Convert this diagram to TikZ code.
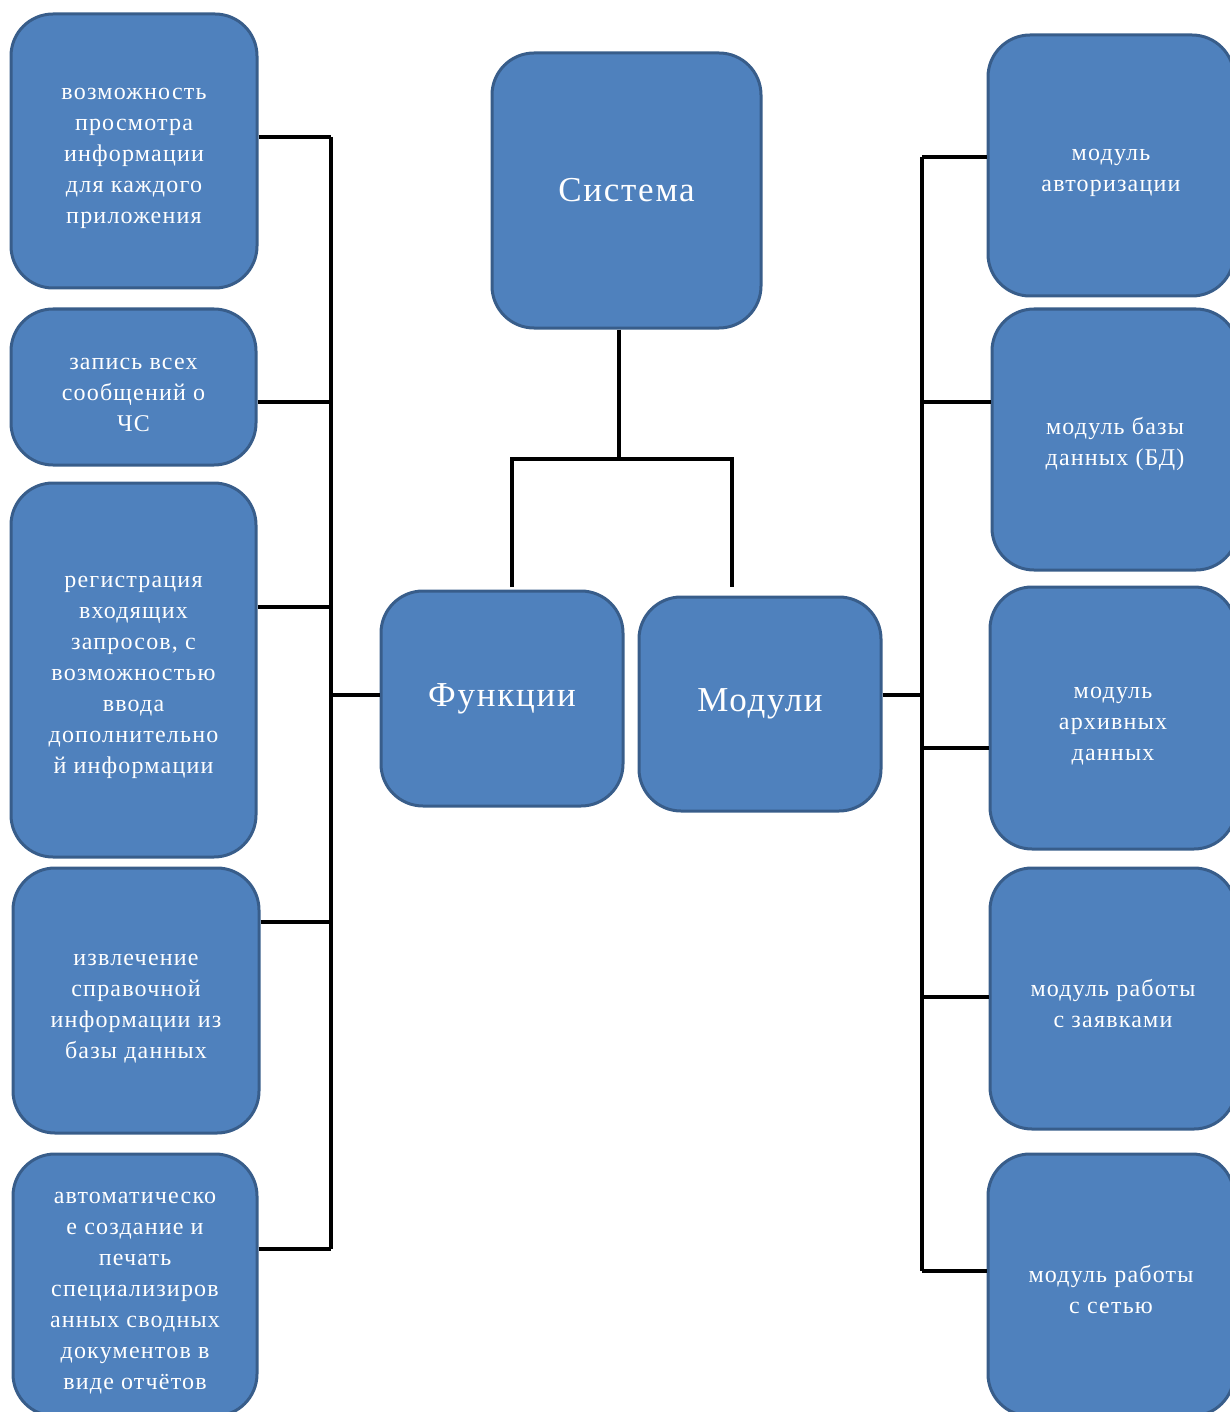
\documentclass[tikz,border=0pt]{standalone}
\usepackage{fontspec}
\setmainfont{Liberation Serif}
\newfontfamily\boxfont[LetterSpace=5]{Liberation Serif}
\newcommand\topst{\rule{0pt}{27pt}}
\definecolor{boxfill}{HTML}{4F81BD}
\definecolor{boxline}{HTML}{385D8A}
\begin{document}
\begin{tikzpicture}[x=1pt,y=-1pt,
  blk/.style={draw=boxline,fill=boxfill,line width=3pt,rounded corners=42pt,
    inner sep=0pt,text=white,align=center,font=\boxfont\fontsize{24}{31}\selectfont},
  big/.style={blk,font=\boxfont\fontsize{35}{40}\selectfont},
  conn/.style={line width=4.2pt,black}]
\useasboundingbox (0,0) rectangle (1229,1412);
% left
\node[blk,minimum width=246pt,minimum height=274pt] (L1) at (134,151) {\topst возможность\\просмотра\\информации\\для каждого\\приложения};
\node[blk,minimum width=245pt,minimum height=156pt] (L2) at (133.5,387) {\topst запись всех\\сообщений о\\ЧС};
\node[blk,minimum width=245pt,minimum height=374pt] (L3) at (133.5,670) {\topst регистрация\\входящих\\запросов, с\\возможностью\\ввода\\дополнительно\\й информации};
\node[blk,minimum width=246pt,minimum height=265pt] (L4) at (136,1000.5) {\topst извлечение\\справочной\\информации из\\базы данных};
\node[blk,minimum width=244pt,minimum height=262pt] (L5) at (135,1285) {\topst автоматическо\\е создание и\\печать\\специализиров\\анных сводных\\документов в\\виде отчётов};
% center
\node[big,minimum width=269pt,minimum height=275pt] (S) at (626.5,190.5) {Система};
\node[big,minimum width=242pt,minimum height=215pt] (F) at (502,698.5) {Функции};
\node[big,minimum width=242pt,minimum height=214pt] (M) at (760,704) {Модули};
% right
\node[blk,minimum width=246pt,minimum height=261pt] (R1) at (1111,165.5) {\topst модуль\\авторизации};
\node[blk,minimum width=246pt,minimum height=261pt] (R2) at (1115,439.5) {\topst модуль базы\\данных (БД)};
\node[blk,minimum width=246pt,minimum height=262pt] (R3) at (1113,718) {\topst модуль\\архивных\\данных};
\node[blk,minimum width=246pt,minimum height=261pt] (R4) at (1113,998.5) {\topst модуль работы\\с заявками};
\node[blk,minimum width=246pt,minimum height=262pt] (R5) at (1111,1285) {\topst модуль работы\\с сетью};
% coordinates
\coordinate (lb1) at (331,137);
\coordinate (lb2) at (331,402);
\coordinate (lb3) at (331,607);
\coordinate (lb4) at (331,922);
\coordinate (lb5) at (331,1249);
\coordinate (lf) at (331,695);
\coordinate (rb1) at (922,157);
\coordinate (rb2) at (922,402);
\coordinate (rb3) at (922,748);
\coordinate (rb4) at (922,997);
\coordinate (rb5) at (922,1271);
\coordinate (rm) at (922,695);
\coordinate (j) at (619,459);
\coordinate (jl) at (512,459);
\coordinate (jr) at (732,459);
\coordinate (el) at (512,587);
\coordinate (er) at (732,587);
% left connectors
\draw[conn] (L1.east |- lb1) -- (lb1);
\draw[conn] (L2.east |- lb2) -- (lb2);
\draw[conn] (L3.east |- lb3) -- (lb3);
\draw[conn] (L4.east |- lb4) -- (lb4);
\draw[conn] (L5.east |- lb5) -- (lb5);
\draw[conn] (lb1) -- (lb5);
\draw[conn] (F.west |- lf) -- (lf);
% center connectors
\draw[conn] (S.south -| j) -- (j);
\draw[conn] (el) -- (jl) -- (jr) -- (er);
% right connectors
\draw[conn] (R1.west |- rb1) -- (rb1);
\draw[conn] (R2.west |- rb2) -- (rb2);
\draw[conn] (R3.west |- rb3) -- (rb3);
\draw[conn] (R4.west |- rb4) -- (rb4);
\draw[conn] (R5.west |- rb5) -- (rb5);
\draw[conn] (rb1) -- (rb5);
\draw[conn] (M.east |- rm) -- (rm);
\end{tikzpicture}
\end{document}
